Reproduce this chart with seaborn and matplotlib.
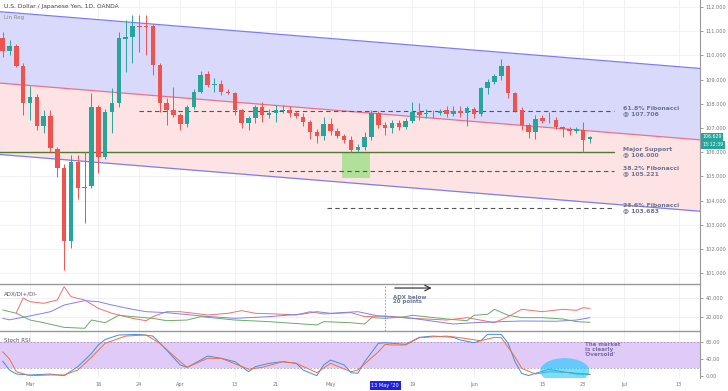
import numpy as np
import pandas as pd
import matplotlib.pyplot as plt
import seaborn as sns
from matplotlib.patches import Ellipse, Rectangle
from matplotlib.transforms import blended_transform_factory

sns.set_style("white")
plt.rcParams['font.family'] = ['DejaVu Sans']

# daily candles USD/JPY, Feb 25 - Jun 24 2020 (bar 0 = Mar 2)
days = pd.bdate_range("2020-02-25", "2020-07-17")
n_candles = 87

opens = [110.72, 110.18, 110.39, 109.56,
         108.03, 108.28, 107.08, 107.50, 106.13, 105.35, 102.33, 105.60, 104.52, 104.60,
         107.87, 105.80, 107.66, 108.03, 110.68, 110.76, 111.23, 111.23, 111.21, 109.60,
         108.03, 107.74, 107.54, 107.17, 107.87, 108.49, 109.23, 108.78, 108.82, 108.49,
         108.45, 107.74, 107.20, 107.41, 107.87, 107.54, 107.62, 107.72, 107.74, 107.62,
         107.45, 107.25, 106.83, 106.67, 107.17, 106.88, 106.67, 106.50, 106.09, 106.21,
         106.63, 107.62, 107.12, 107.00, 107.20, 107.04, 107.29, 107.66, 107.58, 107.62,
         107.62, 107.74, 107.58, 107.70, 107.62, 107.79, 107.58, 108.65, 108.90, 109.15,
         109.56, 108.45, 107.74, 107.12, 106.83, 107.41, 107.31, 107.33, 107.04, 106.94,
         106.88, 106.92, 106.55]
highs = [110.97, 110.64, 110.48, 109.70,
         108.74, 108.40, 107.74, 107.74, 106.21, 105.50, 105.88, 105.90, 106.00, 108.45,
         107.95, 107.80, 108.65, 110.97, 111.46, 111.67, 111.67, 111.67, 111.30, 109.70,
         108.24, 108.70, 107.60, 107.95, 108.60, 109.36, 109.35, 109.07, 108.98, 108.60,
         108.50, 107.80, 107.50, 107.95, 108.07, 107.80, 107.95, 107.95, 107.90, 107.70,
         107.60, 107.35, 106.95, 107.45, 107.41, 107.00, 106.75, 106.67, 106.35, 106.83,
         107.74, 107.70, 107.25, 107.33, 107.35, 107.40, 108.07, 108.03, 107.80, 107.75,
         107.80, 107.90, 107.90, 107.90, 107.90, 107.87, 108.70, 109.02, 109.25, 109.85,
         109.60, 108.50, 107.85, 107.20, 107.54, 107.55, 107.66, 107.45, 107.10, 107.05,
         107.05, 107.25, 106.66]
lows = [109.93, 110.02, 109.50, 107.54,
        107.33, 106.92, 106.79, 106.00, 104.97, 101.13, 102.04, 104.07, 103.07, 104.52,
        105.14, 105.70, 106.79, 107.87, 109.31, 109.69, 110.14, 110.02, 109.19, 107.66,
        107.12, 107.45, 106.92, 107.04, 107.80, 108.45, 108.70, 108.49, 108.36, 108.40,
        107.54, 107.00, 106.92, 107.20, 107.25, 107.40, 107.25, 107.60, 107.45, 107.40,
        107.10, 106.55, 106.38, 106.50, 106.71, 106.60, 106.40, 106.00, 105.99, 106.10,
        106.50, 107.00, 106.71, 106.79, 106.90, 106.95, 107.20, 107.33, 107.40, 107.40,
        107.55, 107.45, 107.50, 107.45, 107.08, 107.41, 107.50, 108.40, 108.80, 108.98,
        108.24, 107.66, 106.92, 106.59, 106.55, 107.20, 107.20, 106.95, 106.63, 106.70,
        106.80, 106.00, 106.38]
closes = [110.18, 110.39, 109.56, 108.03,
          108.28, 107.08, 107.50, 106.17, 105.35, 102.33, 105.60, 104.52, 104.56, 107.87,
          105.80, 107.66, 108.03, 110.72, 110.76, 111.21, 111.19, 111.19, 109.60, 108.03,
          107.74, 107.54, 107.17, 107.87, 108.49, 109.19, 108.78, 108.82, 108.49, 108.45,
          107.74, 107.20, 107.41, 107.87, 107.54, 107.62, 107.74, 107.76, 107.62, 107.50,
          107.25, 106.83, 106.67, 107.17, 106.88, 106.67, 106.50, 106.09, 106.21, 106.63,
          107.62, 107.12, 107.00, 107.20, 107.04, 107.29, 107.66, 107.54, 107.64, 107.60,
          107.70, 107.58, 107.70, 107.62, 107.83, 107.58, 108.65, 108.90, 109.15, 109.56,
          108.45, 107.70, 107.12, 106.83, 107.37, 107.29, 107.35, 107.04, 106.96, 106.88,
          106.94, 106.50, 106.63]

# linear regression channel (bar, centre price) and deviation
lr_bars = [-5, 99]
lr_mid = [108.87, 106.49]
lr_dev = 2.95

# horizontal levels: price, first bar, last bar
fib_price = [107.706, 106.000, 105.221, 103.683]
fib_start = [16, -5, 35, 43.5]
fib_end = [85.5, 85.5, 85.5, 85.5]
fib_text = ["61.8% Fibonacci\n@ 107.706", "Major Support\n@ 106.000",
            "38.2% Fibonacci\n@ 105.221", "23.6% Fibonacci\n@ 103.683"]
fib_solid = [False, True, False, False]

# ADX / DI+ / DI- readings (bar, value)
dim_bar = [-2, -1, 0, 2, 4, 5, 6, 8, 10, 12, 15, 17, 18, 20, 22, 24, 26, 29, 31, 33, 36, 39,
           41, 43, 47, 49, 52, 56, 61, 64, 65, 68, 70, 72, 75, 78, 80, 81, 82]
dim_val = [24.6, 40.0, 36.1, 34.4, 37.9, 51.9, 41.4, 37.9, 29.1, 23.9, 18.6, 16.1, 20.4, 25.6,
           25.6, 23.9, 22.1, 23.9, 26.7, 23.9, 23.2, 22.1, 25.6, 23.2, 24.6, 20.4, 21.1, 18.6,
           16.8, 19.3, 18.0, 14.0, 20.4, 28.1, 25.6, 28.1, 27.0, 29.8, 29.0]
adx_bar = [-4, -3, 0, 3, 5, 8, 10, 12, 15, 17, 20, 25, 30, 35, 40, 42, 44, 48, 51, 56, 62,
           65, 69, 72, 77, 80, 82]
adx_val = [18.6, 17.0, 21.1, 25.6, 32.6, 37.2, 36.1, 32.6, 28.1, 25.6, 24.6, 21.1, 18.6, 20.4,
           23.2, 25.6, 23.9, 25.6, 21.1, 18.6, 12.6, 14.0, 15.1, 15.8, 15.5, 16.8, 19.3]
dip_bar = [-4, -2, 0, 2, 5, 8, 9, 11, 13, 15, 18, 20, 23, 25, 30, 35, 40, 42, 43, 47, 49, 50,
           52, 55, 56, 61, 64, 65, 67, 68, 70, 72, 75, 78, 80, 82]
dip_val = [27.4, 23.9, 16.8, 14.0, 9.1, 8.1, 16.8, 14.0, 21.8, 20.4, 18.6, 16.1, 16.8, 20.4,
           16.8, 15.1, 12.6, 11.6, 15.1, 14.0, 12.6, 19.3, 18.6, 20.4, 21.8, 17.9, 16.1, 21.8,
           22.8, 28.1, 21.8, 19.3, 19.3, 17.9, 15.1, 14.4]

# Stoch RSI readings (bar, value)
k_bar = [-4, -3, -2, 0, 3, 5, 7, 9, 10, 11, 13, 16, 18, 20, 22, 23, 25, 26, 28, 30, 32, 33,
         35, 37, 39, 40, 42, 43, 44, 46, 47, 48, 49, 51, 52, 53, 55, 57, 59, 62, 63, 65, 66,
         67, 69, 70, 71, 72, 73, 74, 76, 78, 80, 82]
k_val = [35, 14, 4.7, 2.4, 4.7, 0.8, 22, 53, 73, 86, 96.5, 98, 94, 61, 26, 20.4, 37.6, 47,
         41.6, 33.7, 10.2, 22, 29.8, 33.7, 29.8, 14, 0.8, 26, 37.6, 26, 7.8, 6.3, 33.7, 76.9,
         78.4, 76.9, 74.5, 91, 94, 91, 84.7, 78.4, 83, 98, 98, 77, 34, 6, 1, 6.3, 15.7, 10,
         4.7, 4]
d_bar = [-4, -3, -2, 0, 3, 5, 7, 9, 11, 14, 17, 19, 22, 23, 26, 28, 32, 34, 37, 39, 42, 44,
         47, 48, 51, 52, 53, 55, 57, 61, 63, 66, 68, 69, 71, 72, 74, 76, 79, 82]
d_val = [57, 40, 10, 0.8, 2.4, 2.4, 14, 44, 77, 94, 96.5, 77, 33.7, 20.4, 41.6, 41.6, 16,
         20.4, 33.7, 29.8, 7.8, 29.8, 10, 14, 57, 74.5, 72.9, 73, 90, 94, 90, 83, 91, 90, 45,
         18, 4.7, 10, 8, 4]

date_ticks = ["2020-03-02", "2020-03-16", "2020-03-24", "2020-04-01", "2020-04-13",
              "2020-04-21", "2020-05-01", "2020-05-19", "2020-06-01", "2020-06-15",
              "2020-06-23", "2020-07-01", "2020-07-13"]
date_labels = ["Mar", "16", "24", "Apr", "13", "21", "May", "19", "Jun", "15", "23", "Jul", "13"]


def bar_of(d):
    return days.get_loc(pd.Timestamp(d)) - 4


df = pd.DataFrame({"date": days[:n_candles], "open": opens, "high": highs,
                   "low": lows, "close": closes})
df["bar"] = np.arange(len(df)) - 4
df["up"] = df["close"] >= df["open"]

UP, DOWN = "#26a69a", "#ef5350"
GRID = "#eceff5"
TXT = "#6b7390"
xlim = (-30 / 6.83, 670 / 6.83)
tick_pos = [bar_of(d) for d in date_ticks]

fig = plt.figure(figsize=(7.28, 3.91), dpi=100)
ax = fig.add_axes([0, 284 / 391 * 0 + 1 - 284 / 391, 700 / 728, 284 / 391])
ax2 = fig.add_axes([0, 1 - 331 / 391, 700 / 728, 47 / 391])
ax3 = fig.add_axes([0, 1 - 378 / 391, 700 / 728, 47 / 391])

for a in (ax, ax2, ax3):
    a.set_xlim(*xlim)
    a.yaxis.tick_right()
    a.tick_params(axis="y", labelsize=3.6, colors="#777777", length=2, width=0.5, pad=2)
    a.tick_params(axis="x", length=0)
    for s in ("left", "bottom"):
        a.spines[s].set_visible(False)
    a.spines["right"].set_color("#999999")
    a.spines["top"].set_color("#999999")
    a.spines["right"].set_linewidth(0.8)
    a.spines["top"].set_linewidth(1.0)
    for p in tick_pos:
        a.axvline(p, color=GRID, lw=0.6, zorder=0)
    a.set_xticks(tick_pos)
    a.set_xticklabels([])
ax.spines["top"].set_visible(False)

# ---- price panel
ax.set_ylim(100.554, 112.289)
price_ticks = np.arange(101, 113)
ax.set_yticks(price_ticks)
ax.set_yticklabels([f"{v:.3f}" for v in price_ticks])
for v in price_ticks:
    ax.axhline(v, color=GRID, lw=0.6, zorder=0)

lx = np.array(lr_bars, dtype=float)
mid = np.array(lr_mid)
ax.fill_between(lx, mid, mid + lr_dev, color="#d9d9fb", zorder=1, lw=0)
ax.fill_between(lx, mid - lr_dev, mid, color="#fde3e3", zorder=1, lw=0)
ax.plot(lx, mid + lr_dev, color="#7d7df2", lw=0.9, zorder=2)
ax.plot(lx, mid - lr_dev, color="#7d7df2", lw=0.9, zorder=2)
ax.plot(lx, mid, color="#ef6f8a", lw=0.9, zorder=2)

# green support box
ax.add_patch(Rectangle((45.7, 104.93), 4.1, 106.0 - 104.93, color="#a8e092", alpha=0.9, zorder=2, lw=0))

for p, s, e, t, solid in zip(fib_price, fib_start, fib_end, fib_text, fib_solid):
    if solid:
        ax.plot([s, e], [p, p], color="#4e7a31", lw=1.0, zorder=3)
    else:
        ax.plot([s, e], [p, p], color="#555555", lw=0.8, ls=(0, (4, 3)), zorder=3)
    ax.text(86.8, p, t, fontsize=4.4, fontweight="bold", color=TXT, va="center",
            ha="left", linespacing=0.95, zorder=5)

colors = np.where(df["up"], UP, DOWN)
ax.vlines(df["bar"], df["low"], df["high"], colors=colors, lw=0.7, zorder=4)
body_lo = np.minimum(df["open"], df["close"])
body_h = np.maximum((df["close"] - df["open"]).abs(), 0.03)
ax.bar(df["bar"], body_h, bottom=body_lo, width=0.66, color=colors, lw=0, zorder=4)

ax.text(0.006, 0.985, "U.S. Dollar / Japanese Yen, 1D, OANDA", transform=ax.transAxes,
        fontsize=4.3, color="#444444", va="top", ha="left")
ax.text(0.006, 0.948, "Lin Reg", transform=ax.transAxes, fontsize=4.0, color="#888888",
        va="top", ha="left")

tr = blended_transform_factory(ax.transAxes, ax.transData)
ax.text(1.003, 106.629, "106.629", transform=tr, fontsize=3.4, color="white", va="center",
        ha="left", clip_on=False, bbox=dict(boxstyle="square,pad=0.25", fc=UP, ec="none"))
ax.text(1.003, 106.30, "13:12:39", transform=tr, fontsize=3.4, color="white", va="center",
        ha="left", clip_on=False, bbox=dict(boxstyle="square,pad=0.25", fc=UP, ec="none"))

# ---- ADX panel
ax2.set_ylim(5.26, 54.74)
ax2.set_yticks([20, 40])
ax2.set_yticklabels(["20.000", "40.000"])
for v in (20, 40):
    ax2.axhline(v, color=GRID, lw=0.6, zorder=0)
sns.lineplot(x=dim_bar, y=dim_val, ax=ax2, color="#f07070", lw=0.7, estimator=None)
sns.lineplot(x=adx_bar, y=adx_val, ax=ax2, color="#8080ee", lw=0.7, estimator=None)
sns.lineplot(x=dip_bar, y=dip_val, ax=ax2, color="#6aaa6a", lw=0.7, estimator=None)
ax2.axvline(bar_of("2020-05-13"), color="#8888cc", lw=0.6, ls=(0, (2, 2)))
ax2.text(0.006, 0.85, "ADX/DI+/DI-", transform=ax2.transAxes, fontsize=4.0, color="#555555",
         va="top", ha="left")
ax2.annotate("", xy=(59.2, 50.5), xytext=(53.0, 50.5),
             arrowprops=dict(arrowstyle="->", color="#222222", lw=0.8))
ax2.text(53.1, 43.5, "ADX below\n20 points", fontsize=4.0, fontweight="bold", color=TXT,
         va="top", ha="left", linespacing=0.95)
ax2.set_ylabel("")

# ---- Stoch RSI panel
ax3.set_ylim(-4.7, 105.9)
ax3.set_yticks([0, 40, 80])
ax3.set_yticklabels(["0.00", "40.00", "80.00"])
ax3.axhspan(20, 80, color="#e0cbf8", zorder=0, lw=0)
for v in (20, 80):
    ax3.axhline(v, color="#a796bd", lw=0.6, ls=(0, (2, 2)), zorder=1)
sns.lineplot(x=k_bar, y=k_val, ax=ax3, color="#3d8ee8", lw=0.7, estimator=None)
sns.lineplot(x=d_bar, y=d_val, ax=ax3, color="#f0703c", lw=0.7, estimator=None)
ax3.add_patch(Ellipse((78.3, 12), 7.2, 60, color="#00c8ff", alpha=0.55, lw=0, zorder=3))
ax3.text(0.006, 0.85, "Stoch RSI", transform=ax3.transAxes, fontsize=4.0, color="#555555",
         va="top", ha="left")
ax3.text(81.2, 62, "The market\nis clearly\n'Oversold'", fontsize=4.0, fontweight="bold",
         color="#7a6aa6", va="center", ha="left", linespacing=0.95, zorder=5)
ax3.set_ylabel("")
ax3.set_xticklabels(date_labels)
ax3.tick_params(axis="x", labelsize=3.6, colors="#777777", pad=3)

may13 = bar_of("2020-05-13")
ax3.text(may13, -0.16, "13 May '20", transform=blended_transform_factory(ax3.transData, ax3.transAxes),
         fontsize=3.6, color="white", ha="center", va="center", clip_on=False,
         bbox=dict(boxstyle="square,pad=0.35", fc="#1c22e6", ec="none"))

fig.savefig("out.png", dpi=100)
